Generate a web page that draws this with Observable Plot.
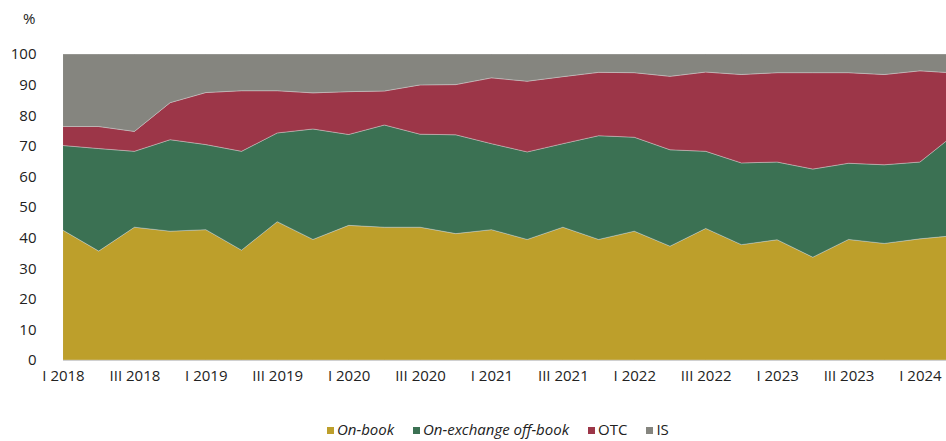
<!DOCTYPE html>
<html>
<head>
<meta charset="utf-8">
<script src="https://cdn.jsdelivr.net/npm/d3@7"></script>
<script src="https://cdn.jsdelivr.net/npm/@observablehq/plot@0.6"></script>
<style>
  body { margin: 0; background: #fff; font-family: "Open Sans", sans-serif; }
  #wrap { position: relative; width: 946px; height: 441px; overflow: hidden; }
  #pct { position: absolute; left: 23px; top: 8px; font-size: 15px; color: #222; }
  #legend { position: absolute; left: 327px; top: 419px; display: flex; align-items: center; font-size: 15px; line-height: 20px; color: #222; white-space: nowrap; }
  #legend .item { display: flex; align-items: center; margin-right: 19px; }
  #legend .sw { width: 7px; height: 7px; margin-right: 3px; margin-top: 3px; }
  #legend .it { font-style: italic; }
</style>
</head>
<body>
<div id="wrap">
  <div id="chart"></div>
  <div id="pct">%</div>
  <div id="legend"></div>
</div>
<script>
const quarterLabels = [
  "I 2018","II 2018","III 2018","IV 2018",
  "I 2019","II 2019","III 2019","IV 2019",
  "I 2020","II 2020","III 2020","IV 2020",
  "I 2021","II 2021","III 2021","IV 2021",
  "I 2022","II 2022","III 2022","IV 2022",
  "I 2023","II 2023","III 2023","IV 2023",
  "I 2024","II 2024"
];
const seriesNames = ["On-book", "On-exchange off-book", "OTC", "IS"];
const seriesColors = ["#BD9F2B", "#3B7153", "#9C3648", "#85857F"];
const italicSeries = [true, true, false, false];

const onBook =  [42.4,35.6,43.4,42.1,42.6,35.9,45.2,39.4,44.0,43.4,43.4,41.3,42.6,39.4,43.4,39.4,42.1,37.2,43.0,37.7,39.3,33.6,39.4,38.1,39.6,40.7];
const offBook = [27.7,33.5,24.8,29.9,27.8,32.3,29.0,36.1,29.7,33.4,30.4,32.3,28.1,28.6,27.3,33.9,30.7,31.5,25.2,26.7,25.4,28.8,24.9,25.7,25.1,33.3];
const otc =     [ 6.2, 7.2, 6.5,12.1,17.0,19.8,13.8,11.8,14.0,11.1,16.1,16.4,21.5,23.1,21.9,20.7,21.1,24.0,25.9,28.9,29.2,31.5,29.6,29.5,29.8,19.8];
const is =      [23.7,23.7,25.3,15.9,12.6,12.0,12.0,12.7,12.3,12.1,10.1,10.0, 7.8, 8.9, 7.4, 6.0, 6.1, 7.3, 5.9, 6.7, 6.1, 6.1, 6.1, 6.7, 5.5, 6.2];

const yTicks = [0,10,20,30,40,50,60,70,80,90,100];

const seriesValues = [onBook, offBook, otc, is];
const rows = [];
seriesNames.forEach((name, s) => {
  seriesValues[s].forEach((v, i) => rows.push({q: i, series: name, value: v}));
});
const xTicks = quarterLabels.map((_, i) => i).filter(i => i % 2 === 0 && i <= 24);

const chart = Plot.plot({
  width: 946,
  height: 400,
  marginTop: 54,
  marginBottom: 40,
  marginLeft: 63,
  marginRight: 0,
  style: { fontFamily: "Open Sans, sans-serif", fontSize: "15px", color: "#222", background: "#fff" },
  x: { type: "linear", domain: [0, 24.73], ticks: xTicks, tickFormat: i => quarterLabels[i], tickSize: 0, tickPadding: 10, label: null },
  y: { domain: [0, 100], ticks: yTicks, tickSize: 0, tickPadding: 27, label: null },
  color: { domain: seriesNames, range: seriesColors },
  marks: [
    Plot.areaY(rows, { x: "q", y: "value", fill: "series", order: seriesNames, clip: true, stroke: "#d8d8d8", strokeWidth: 0.4 }),
    Plot.ruleY([0], { stroke: "#d0d0d0", strokeWidth: 1 })
  ]
});
document.getElementById("chart").appendChild(chart);

const legend = document.getElementById("legend");
seriesNames.forEach((name, i) => {
  const item = document.createElement("div");
  item.className = "item";
  const sw = document.createElement("div");
  sw.className = "sw";
  sw.style.background = seriesColors[i];
  const t = document.createElement("span");
  t.textContent = name;
  if (italicSeries[i]) t.className = "it";
  item.appendChild(sw);
  item.appendChild(t);
  legend.appendChild(item);
});
</script>
</body>
</html>
